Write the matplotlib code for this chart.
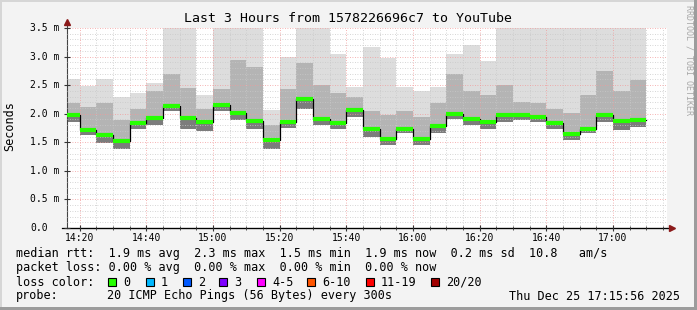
import datetime as dt
import matplotlib
matplotlib.use("Agg")
import matplotlib.pyplot as plt
import matplotlib.dates as mdates
import matplotlib.transforms as mtransforms
from matplotlib.patches import Rectangle
from matplotlib.ticker import MultipleLocator

# 5-minute rounds, each bar covers (end - 5min, end]
first_end = dt.datetime(2025, 12, 25, 14, 20)
n_bars = 35
bar_end = [first_end + dt.timedelta(minutes=5 * i) for i in range(n_bars)]

# median rtt (ms)
median = [1.98, 1.72, 1.62, 1.52, 1.83, 1.92, 2.14, 1.92, 1.85, 2.15,
          2.01, 1.87, 1.54, 1.86, 2.26, 1.90, 1.83, 2.06, 1.74, 1.55,
          1.73, 1.56, 1.79, 2.00, 1.91, 1.86, 1.97, 1.98, 1.95, 1.83,
          1.64, 1.74, 1.97, 1.88, 1.89]
# smoke: slowest ping, top of the denser band, fastest ping (ms)
smoke_hi = [2.60, 2.49, 2.60, 2.30, 2.36, 2.53, 3.50, 3.50, 2.33, 3.50,
            3.50, 3.50, 2.07, 2.99, 3.50, 3.50, 3.04, 2.47, 3.17, 2.97,
            2.47, 2.40, 2.47, 3.04, 3.20, 2.92, 3.50, 3.50, 3.50, 3.50,
            3.50, 3.50, 3.50, 3.50, 3.50]
smoke_mid = [2.18, 2.12, 2.18, 1.89, 2.09, 2.39, 2.69, 2.45, 2.09, 2.44,
             2.94, 2.82, 1.80, 2.43, 2.89, 2.51, 2.36, 2.30, 2.04, 1.98,
             2.04, 1.95, 2.18, 2.69, 2.40, 2.33, 2.50, 2.21, 2.18, 2.09,
             2.01, 2.33, 2.74, 2.39, 2.59]
smoke_lo = [1.86, 1.63, 1.48, 1.38, 1.74, 1.80, 2.05, 1.74, 1.70, 2.05,
            1.89, 1.73, 1.39, 1.75, 2.09, 1.80, 1.73, 1.95, 1.60, 1.45,
            1.66, 1.46, 1.67, 1.91, 1.80, 1.74, 1.86, 1.89, 1.86, 1.73,
            1.54, 1.66, 1.86, 1.72, 1.77]

y_ticks = [0.0, 0.5, 1.0, 1.5, 2.0, 2.5, 3.0, 3.5]
y_labels = ["0.0", "0.5 m", "1.0 m", "1.5 m", "2.0 m", "2.5 m", "3.0 m", "3.5 m"]

loss_labels = ["0", "1", "2", "3", "4-5", "6-10", "11-19", "20/20"]
loss_colors = ["#26ff00", "#00b8ff", "#0059ff", "#7e00ff",
               "#ff00ff", "#ff5500", "#ff0000", "#a10000"]

W, H = 697, 310
MONO = "DejaVu Sans Mono"
plt.rcParams["font.family"] = MONO

fig = plt.figure(figsize=(W / 100, H / 100), dpi=100, facecolor="#f3f3f3")
ax = fig.add_axes([67 / W, 1 - 228 / H, 600 / W, 200 / H])
ax.set_facecolor("white")

step = dt.timedelta(minutes=5)
starts = [t - step for t in bar_end]
width = 5 / 1440
lo_mid = [m - l for m, l in zip(smoke_mid, smoke_lo)]
lo_hi = [h - l for h, l in zip(smoke_hi, smoke_lo)]
lo_med = [m - l for m, l in zip(median, smoke_lo)]
ax.bar(starts, lo_hi, width=width, bottom=smoke_lo, align="edge",
       color="#dddddd", lw=0, zorder=1)
ax.bar(starts, lo_mid, width=width, bottom=smoke_lo, align="edge",
       color="#b4b4b4", lw=0, zorder=1)
ax.bar(starts, lo_med, width=width, bottom=smoke_lo, align="edge",
       color="#7c7c7c", lw=0, zorder=1)

# median: black step line, green segments (0 loss) on top
ax.step(starts + [bar_end[-1]], median + [median[-1]], where="post",
        color="black", lw=0.9, zorder=4)
ax.hlines(median, starts, bar_end, color=loss_colors[0], lw=3, zorder=5)

t0 = dt.datetime(2025, 12, 25, 14, 16, 15)
ax.set_xlim(t0, t0 + dt.timedelta(hours=3))
ax.set_ylim(0, 3.5)

ax.xaxis.set_major_locator(mdates.MinuteLocator(byminute=[0, 20, 40]))
ax.xaxis.set_minor_locator(mdates.MinuteLocator(byminute=range(0, 60, 5)))
ax.xaxis.set_major_formatter(mdates.DateFormatter("%H:%M"))
ax.set_yticks(y_ticks)
ax.yaxis.set_minor_locator(MultipleLocator(0.1))
ax.set_yticklabels([])

# left-aligned y labels, as rrdtool does
ytrans = mtransforms.blended_transform_factory(fig.transFigure, ax.transData)
for v, lab in zip(y_ticks, y_labels):
    ax.text(30 / W, v, lab, transform=ytrans, ha="left", va="center",
            fontsize=7, clip_on=False)

ax.grid(which="minor", color="#c8c8c8", lw=0.6, ls=(0, (1, 2)))
ax.grid(which="major", color="#f29a9a", lw=0.6, ls=(0, (1, 2)))
ax.set_axisbelow(False)

ax.tick_params(axis="both", which="both", labelsize=7, colors="#333333",
               labelcolor="black", direction="inout")
ax.tick_params(axis="y", which="major", length=5)
ax.tick_params(axis="y", which="minor", length=0)
ax.tick_params(axis="x", which="major", length=5, pad=1)
ax.tick_params(axis="x", which="minor", length=3)

for side in ["top", "right"]:
    ax.spines[side].set_visible(False)
ax.spines["left"].set_color("#444444")
ax.spines["bottom"].set_color("black")

# axis arrows
ax.plot([0, 0], [1.0, 1.03], transform=ax.transAxes, color="#444444",
        lw=0.8, clip_on=False)
ax.plot([0], [1.03], marker="^", ms=5, color="#8b1a1a",
        transform=ax.transAxes, clip_on=False)
ax.plot([-0.008, 1.0083], [0, 0], transform=ax.transAxes, color="black",
        lw=0.9, clip_on=False)
ax.plot([1.0083], [0], marker=">", ms=5, color="#8b1a1a",
        transform=ax.transAxes, clip_on=False)


def ftext(x, y, s, **kw):
    fig.text(x / W, 1 - y / H, s, va="center", **kw)


ftext(348, 19, "Last 3 Hours from 1578226696c7 to YouTube", ha="center",
      fontsize=9.5)
ftext(10, 126, "Seconds", ha="center", rotation=90, fontsize=8.5)
ftext(689, 60, "RRDTOOL / TOBI OETIKER", ha="center", rotation=270,
      fontsize=6, color="#a8a8a8")

fs = 8.5
ftext(16, 254, "median rtt:  1.9 ms avg  2.3 ms max  1.5 ms min  "
      "1.9 ms now  0.2 ms sd  10.8   am/s", fontsize=fs)
ftext(16, 268, "packet loss: 0.00 % avg  0.00 % max  0.00 % min  "
      "0.00 % now", fontsize=fs)
ftext(16, 282, "loss color:", fontsize=fs)
box_x = [108, 146, 183, 219, 257, 307, 366, 431]
for bx, lab, col in zip(box_x, loss_labels, loss_colors):
    fig.add_artist(Rectangle((bx / W, 1 - 286 / H), 8 / W, 8 / H,
                             transform=fig.transFigure, facecolor=col,
                             edgecolor="black", lw=0.8))
    ftext(bx + 15, 282, lab, fontsize=fs)
ftext(16, 296, "probe:", fontsize=fs)
ftext(107, 296, "20 ICMP Echo Pings (56 Bytes) every 300s", fontsize=fs)
ftext(680, 296, "Thu Dec 25 17:15:56 2025", ha="right", fontsize=fs)

# 3d-ish frame around the image
for (x, y, w, h, c) in [(0, 0, W, 2, "#d6d6d6"), (0, 0, 2, H, "#d6d6d6"),
                        (0, H - 3, W, 3, "#9c9c9c"), (W - 3, 0, 3, H, "#9c9c9c")]:
    fig.add_artist(Rectangle((x / W, 1 - (y + h) / H), w / W, h / H,
                             transform=fig.transFigure, color=c, lw=0))

fig.savefig("out.png", dpi=100, facecolor=fig.get_facecolor())
